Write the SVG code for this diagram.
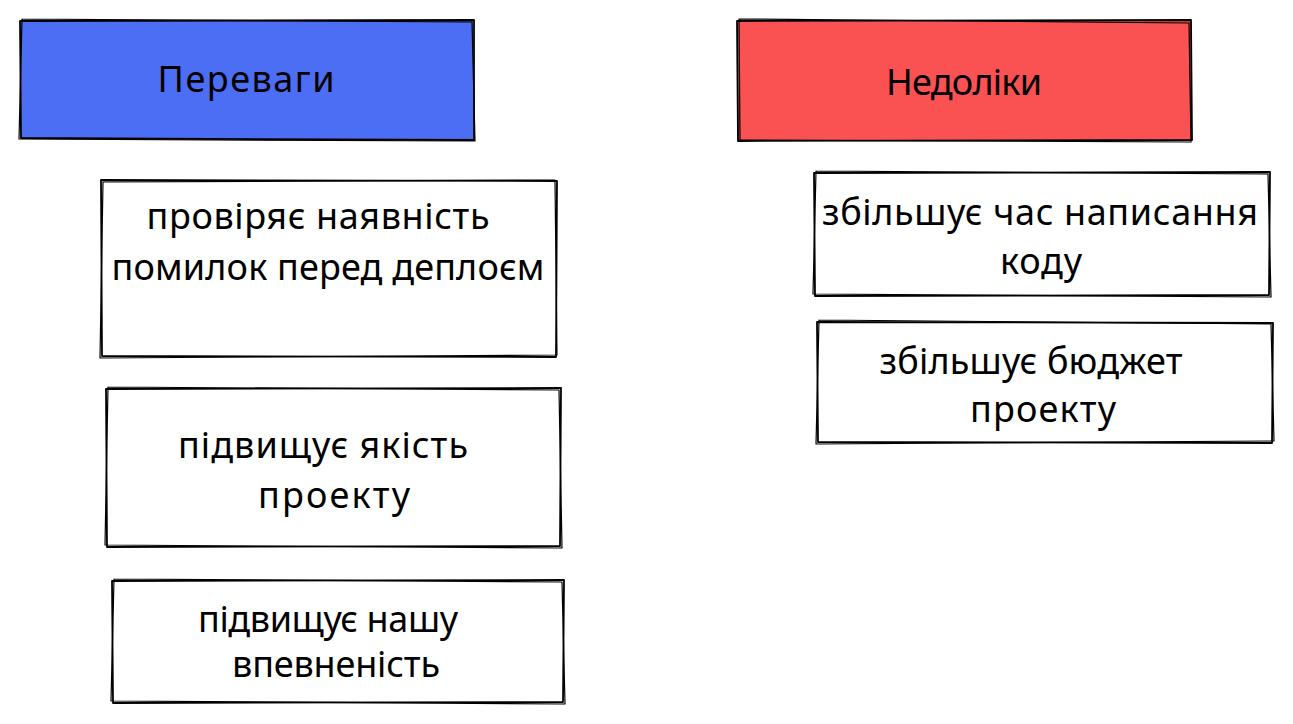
<svg xmlns="http://www.w3.org/2000/svg" width="1293" height="724" viewBox="0 0 1293 724">
<style>
.bg{fill:#ffffff}
.s{fill:none;stroke:#000;stroke-width:1.8;stroke-linecap:round;stroke-linejoin:round}
.s2{fill:none;stroke:#000;stroke-width:1.2;stroke-linecap:round;stroke-linejoin:round}
.t{font-family:"Noto Sans","Liberation Sans",sans-serif;font-size:36px;fill:#000;text-anchor:middle}
</style>
<rect class="bg" x="0" y="0" width="1293" height="724"/>
<g id="node-perevagy">
<rect x="21" y="21" width="452" height="118" fill="#4c6ef5"/>
<path class="s" d="M20 21 L474 20 L474 140 L21 138 Z"/>
<path class="s2" d="M22 19 L472 22 L475 141 L19 139 L22 19"/>
<text class="t" x="246" y="92" textLength="177" lengthAdjust="spacing">Переваги</text>
</g>
<g id="node-nedoliky">
<rect x="738" y="21" width="453" height="119" fill="#fa5252"/>
<path class="s" d="M737 21 L1191 20 L1192 140 L738 141 Z"/>
<path class="s2" d="M739 19 L1189 23 L1191 142 L740 140 L739 19"/>
<text class="t" x="964" y="95" textLength="156" lengthAdjust="spacing">Недоліки</text>
</g>
<g id="node-pro1">
<path class="s" d="M101 180 L557 181 L556 357 L102 356 Z"/>
<path class="s2" d="M103 182 L555 180 L557 355 L100 358 L103 182"/>
<text class="t" x="318" y="229" textLength="343" lengthAdjust="spacing">провіряє наявність</text>
<text class="t" x="328" y="280" textLength="433" lengthAdjust="spacing">помилок перед деплоєм</text>
</g>
<g id="node-pro2">
<path class="s" d="M106 389 L561 388 L560 546 L107 547 Z"/>
<path class="s2" d="M108 387 L559 390 L562 548 L105 545 L108 387"/>
<text class="t" x="323" y="458" textLength="290" lengthAdjust="spacing">підвищує якість</text>
<text class="t" x="334" y="508" textLength="152" lengthAdjust="spacing">проекту</text>
</g>
<g id="node-pro3">
<path class="s" d="M112 581 L564 580 L563 702 L113 703 Z"/>
<path class="s2" d="M114 579 L562 582 L565 704 L111 701 L114 579"/>
<text class="t" x="328" y="632" textLength="260" lengthAdjust="spacing">підвищує нашу</text>
<text class="t" x="336" y="677" textLength="208" lengthAdjust="spacing">впевненість</text>
</g>
<g id="node-con1">
<path class="s" d="M814 173 L1270 172 L1269 295 L815 296 Z"/>
<path class="s2" d="M816 171 L1268 174 L1271 297 L813 294 L816 171"/>
<text class="t" x="1040" y="225" textLength="436" lengthAdjust="spacing">збільшує час написання</text>
<text class="t" x="1041" y="274" textLength="82" lengthAdjust="spacing">коду</text>
</g>
<g id="node-con2">
<path class="s" d="M817 322 L1273 323 L1272 443 L818 442 Z"/>
<path class="s2" d="M819 320 L1271 324 L1274 441 L816 444 L819 320"/>
<text class="t" x="1031" y="374" textLength="303" lengthAdjust="spacing">збільшує бюджет</text>
<text class="t" x="1043" y="422" textLength="146" lengthAdjust="spacing">проекту</text>
</g>
<g id="connectors"></g>
</svg>
